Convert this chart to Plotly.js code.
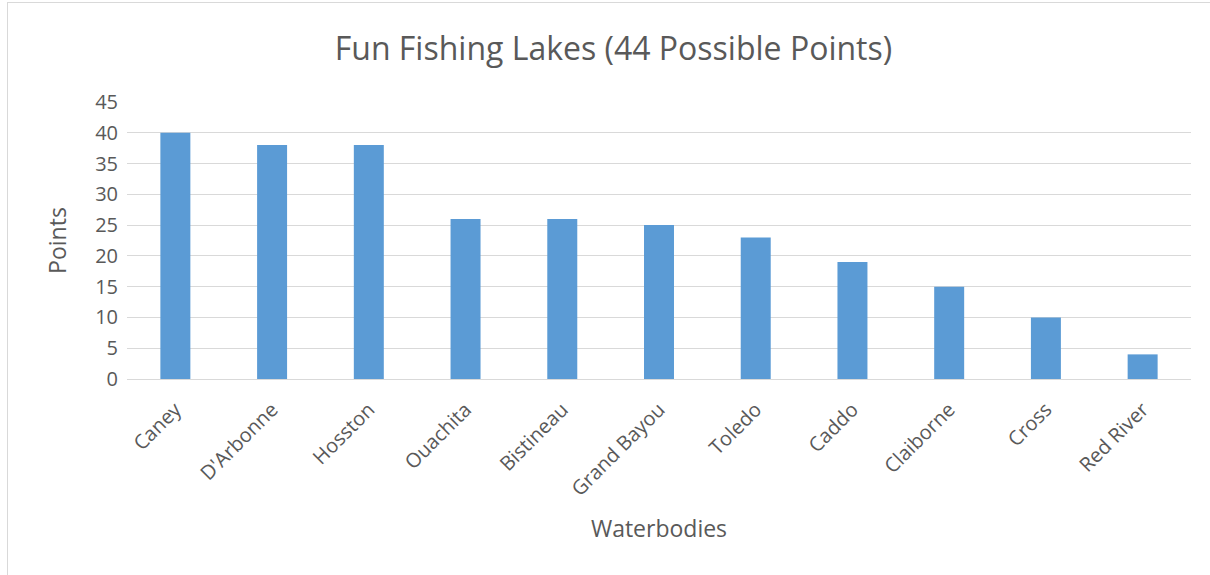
<!DOCTYPE html>
<html><head><meta charset="utf-8">
<script src="https://cdn.plot.ly/plotly-3.0.1.min.js"></script>
<style>
html,body{margin:0;padding:0;background:#fff;overflow:hidden;}
#frame{position:absolute;left:7px;top:2px;width:1400px;height:800px;border:1px solid #D9D9D9;box-sizing:border-box;}
#chart{position:absolute;left:0;top:0;width:1210px;height:575px;}
</style></head>
<body>
<div id="frame"></div>
<div id="chart"></div>
<script>
const categories = ["Caney","D'Arbonne","Hosston","Ouachita","Bistineau","Grand Bayou","Toledo","Caddo","Claiborne","Cross","Red River"];
const points = [40,38,38,26,26,25,23,19,15,10,4];
const yTicks = [0,5,10,15,20,25,30,35,40,45];

const font = "'Open Sans', 'Segoe UI', sans-serif";
const grey = "#595959";

Plotly.newPlot('chart', [{
  type:'bar', x:categories, y:points,
  marker:{color:'#5B9BD5'}, hoverinfo:'x+y'
}], {
  width:1210, height:575,
  paper_bgcolor:'rgba(0,0,0,0)', plot_bgcolor:'rgba(0,0,0,0)',
  margin:{l:127,r:19,t:102,b:196},
  bargap:0.69,
  title:{text:'Fun Fishing Lakes (44 Possible Points)', font:{family:font,size:32,color:grey}, x:0.507, xref:'container', y:0.916, yref:'container', yanchor:'middle'},
  xaxis:{tickangle:-45, tickfont:{family:font,size:20,color:grey}, showgrid:false, showline:true, linecolor:'#D9D9D9', ticks:'', automargin:false, ticklabelstandoff:10,
    title:{text:'Waterbodies', font:{family:font,size:23,color:grey}, standoff:20}},
  yaxis:{range:[0,45], tickvals:yTicks, tickfont:{family:font,size:20,color:grey}, gridcolor:'#D9D9D9', zeroline:false, showline:false, ticks:'', automargin:false, ticklabelstandoff:8,
    title:{text:'Points', font:{family:font,size:23,color:grey}, standoff:22}},
  showlegend:false
}, {displayModeBar:false});
</script>
</body></html>
